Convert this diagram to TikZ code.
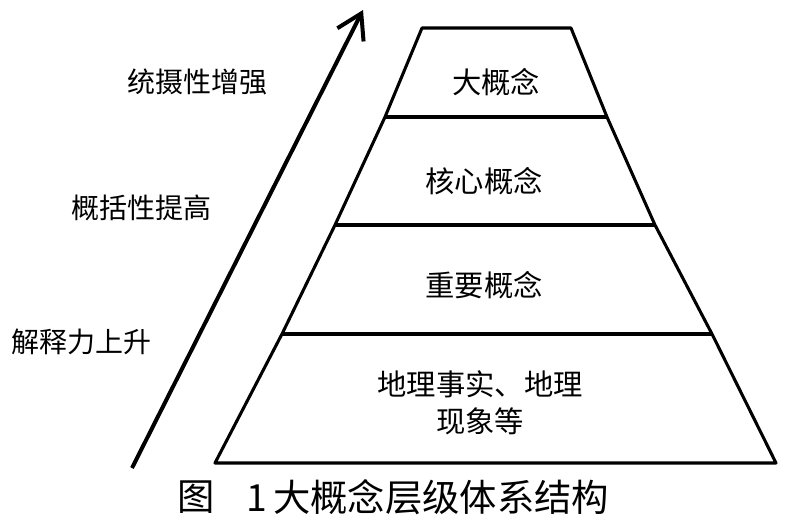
\documentclass[tikz,border=0pt]{standalone}
\usepackage{fontspec}
\setmainfont{Noto Sans CJK SC}
\usetikzlibrary{arrows.meta}
\tikzset{
  levellabel/.style={font=\fontsize{22}{28}\selectfont, align=center, inner sep=0pt},
  sidelabel/.style={font=\fontsize{21}{25}\selectfont, inner sep=0pt},
  captionlabel/.style={font=\fontsize{28}{32}\selectfont, inner sep=0pt},
  edge/.style={line width=2.3pt},
}
\begin{document}
\begin{tikzpicture}[x=0.75pt,y=-0.75pt,line join=round]
    \useasboundingbox (0,0) rectangle (788,524);

    % pyramid outline and layer borders
    \draw[edge] (422,28) -- (571,28) -- (607,117) -- (655,225) -- (712,334) -- (776,463)
        -- (215,463) -- (282,334) -- (335,225) -- (385,117) -- cycle;
    \draw[edge] (385,117) -- (607,117);
    \draw[edge] (335,225) -- (655,225);
    \draw[edge] (282,334) -- (712,334);

    % layer labels
    \node[levellabel] (big) at (496,82) {大概念};
    \node[levellabel] (core) at (484,181) {核心概念};
    \node[levellabel] (key) at (484,285) {重要概念};
    \node[levellabel] (facts) at (480,403) {地理事实、地理\\现象等};

    % rising arrow
    \coordinate (arrowstart) at (132,468);
    \coordinate (arrowtip) at (363,10);
    \draw[line width=3pt, -{Straight Barb[length=18pt,width=22pt]}] (arrowstart) -- (arrowtip);

    % side labels
    \node[sidelabel] (subsume) at (197,82) {统摄性增强};
    \node[sidelabel] (general) at (141,208) {概括性提高};
    \node[sidelabel] (explain) at (82,342) {解释力上升};

    % caption
    \node[captionlabel] (figtag) at (196,497) {图};
    \node[captionlabel, anchor=west] (figtitle) at (246,497) {1\,大概念层级体系结构};
\end{tikzpicture}
\end{document}
